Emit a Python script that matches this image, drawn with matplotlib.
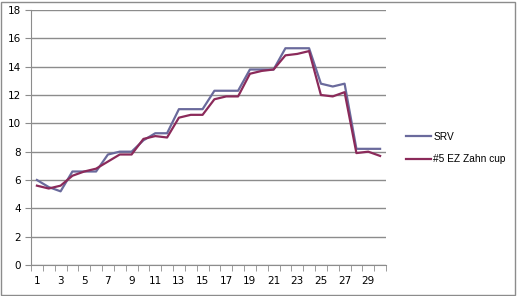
import matplotlib.pyplot as plt
from matplotlib.patches import Rectangle

# values
days = list(range(1, 31))
srv = [6.0, 5.5, 5.2, 6.6, 6.6, 6.6, 7.8, 8.0, 8.0, 8.8,
       9.3, 9.3, 11.0, 11.0, 11.0, 12.3, 12.3, 12.3, 13.8, 13.8,
       13.8, 15.3, 15.3, 15.3, 12.8, 12.6, 12.8, 8.2, 8.2, 8.2]
ez_zahn = [5.6, 5.4, 5.6, 6.3, 6.6, 6.8, 7.3, 7.8, 7.8, 8.9,
           9.1, 9.0, 10.4, 10.6, 10.6, 11.7, 11.9, 11.9, 13.5, 13.7,
           13.8, 14.8, 14.9, 15.1, 12.0, 11.9, 12.2, 7.9, 8.0, 7.7]
y_ticks = [0, 2, 4, 6, 8, 10, 12, 14, 16, 18]

plt.rcParams['font.family'] = ['DejaVu Sans']

W, H = 517, 296
fig = plt.figure(figsize=(W / 100, H / 100), dpi=100)
# plot area in pixels: x 31..386, y 10..265
ax = fig.add_axes([31 / W, 1 - 265 / H, 355 / W, 255 / H])

ax.plot(days, srv, color='#6A6A9C', lw=1.6, label='SRV')
ax.plot(days, ez_zahn, color='#8B2A5A', lw=1.6, label='#5 EZ Zahn cup')

ax.set_xlim(0.5, 30.5)
ax.set_ylim(0, 18)
ax.set_yticks(y_ticks)
ax.set_xticks(days[::2])
ax.set_xticks([d + 0.5 for d in range(0, 31)], minor=True)
ax.grid(axis='y', color='#8C8C8C', lw=1)
ax.set_axisbelow(True)

for s in ['top', 'right']:
    ax.spines[s].set_visible(False)
for s in ['left', 'bottom']:
    ax.spines[s].set_color('#8C8C8C')

ax.tick_params(axis='x', which='major', length=0, labelsize=7.5, pad=8)
ax.tick_params(axis='x', which='minor', length=4, color='#8C8C8C', direction='out')
ax.tick_params(axis='y', length=4, color='#8C8C8C', labelsize=7.5, pad=3)

leg = fig.legend(loc='upper left', bbox_to_anchor=(406 / W, 1 - 132 / H),
                 frameon=False, borderpad=0, borderaxespad=0,
                 prop={'family': 'Liberation Sans', 'size': 7.3},
                 handlelength=2.5, handletextpad=0.2, labelspacing=1.2)

# outer chart border
fig.patches.append(Rectangle((1 / W, 1 / H), (W - 3) / W, (H - 3) / H,
                             transform=fig.transFigure, fill=False,
                             edgecolor='#8C8C8C', lw=1))

fig.savefig('out.png', dpi=100)
